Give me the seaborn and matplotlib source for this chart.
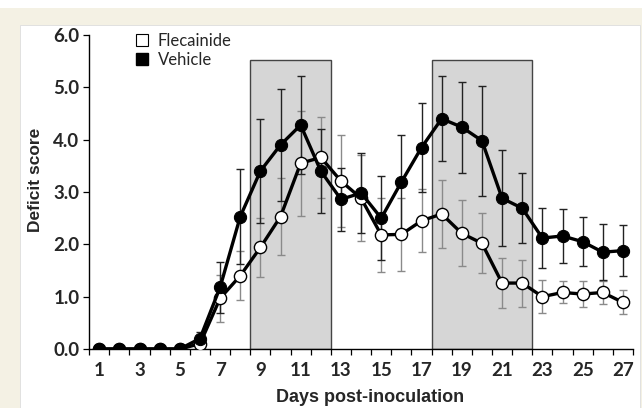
import numpy as np
import pandas as pd
import matplotlib
matplotlib.use("Agg")
import matplotlib.pyplot as plt
from matplotlib.patches import Rectangle
from matplotlib.lines import Line2D
import seaborn as sns

# ---- data ----
days = list(range(1, 28))
vehicle = [0, 0, 0, 0, 0, 0.20, 1.18, 2.53, 3.40, 3.90, 4.28, 3.40, 2.86, 2.98,
           2.50, 3.19, 3.85, 4.40, 4.24, 3.98, 2.88, 2.69, 2.12, 2.16, 2.05, 1.85, 1.88]
vehicle_err = [0, 0, 0, 0, 0, 0.12, 0.49, 0.90, 1.00, 1.07, 0.93, 0.80, 0.60, 0.77,
               0.80, 0.90, 0.85, 0.81, 0.87, 1.05, 0.92, 0.67, 0.57, 0.51, 0.47, 0.54, 0.49]
flecainide = [0, 0, 0, 0, 0, 0.10, 0.97, 1.40, 1.94, 2.53, 3.55, 3.66, 3.21, 2.88,
              2.18, 2.19, 2.45, 2.58, 2.21, 2.02, 1.26, 1.26, 1.00, 1.08, 1.05, 1.08, 0.89]
flecainide_err = [0, 0, 0, 0, 0, 0.08, 0.45, 0.47, 0.57, 0.73, 1.00, 0.78, 0.88, 0.82,
                  0.70, 0.70, 0.60, 0.65, 0.63, 0.57, 0.47, 0.45, 0.32, 0.21, 0.24, 0.22, 0.23]
shade_windows = [(8.5, 12.5), (17.5, 22.5)]
shade_top = 5.53
x_tick_labels = [str(d) for d in range(1, 28, 2)]
y_ticks = [0, 1, 2, 3, 4, 5, 6]
series_names = ["Flecainide", "Vehicle"]

df = pd.DataFrame({
    "day": days * 2,
    "score": flecainide + vehicle,
    "group": ["Flecainide"] * len(days) + ["Vehicle"] * len(days),
})

sns.set_style("ticks")
plt.rcParams["font.family"] = ["Lato", "DejaVu Sans"]

fig = plt.figure(figsize=(6.42, 4.08), dpi=100)
fig.patch.set_facecolor("white")
W, H = 642, 408
fig.patches.append(Rectangle((0, 0), 1, (H - 8) / H, transform=fig.transFigure,
                             facecolor="#f4f1e4", edgecolor="none", zorder=-10))
fig.patches.append(Rectangle((20 / W, 0), (640 - 20) / W, (H - 25) / H, transform=fig.transFigure,
                             facecolor="white", edgecolor="#dddddd", linewidth=0.6, zorder=-9))

ax = fig.add_axes([89.2 / W, (H - 349) / H, (633 - 89.2) / W, (349 - 35) / H])
ax.set_facecolor("none")

for (x0, x1) in shade_windows:
    ax.add_patch(Rectangle((x0, 0), x1 - x0, shade_top, facecolor="#d6d6d6",
                           edgecolor="#444444", linewidth=1.0, zorder=0))

ax.errorbar(days, flecainide, yerr=flecainide_err, fmt="none", ecolor="#8a8a8a",
            elinewidth=1.0, capsize=2.6, capthick=1.0, zorder=1)
ax.errorbar(days, vehicle, yerr=vehicle_err, fmt="none", ecolor="#222222",
            elinewidth=1.0, capsize=2.6, capthick=1.0, zorder=1.5)

sub_f = df[df["group"] == "Flecainide"]
sub_v = df[df["group"] == "Vehicle"]
sns.lineplot(data=sub_f, x="day", y="score", ax=ax, color="black", linewidth=2.4,
             marker="o", markersize=8.8, markerfacecolor="white", markeredgecolor="black",
             markeredgewidth=1.0, zorder=3, legend=False)
sns.lineplot(data=sub_v, x="day", y="score", ax=ax, color="black", linewidth=2.4,
             marker="o", markersize=8.8, markerfacecolor="black", markeredgecolor="black",
             zorder=4, legend=False)

ax.set_xlim(0.5, 27.5)
ax.set_ylim(0, 6)
ax.set_xticks(range(1, 28, 2))
ax.set_xticklabels(x_tick_labels)
ax.set_xticks(np.arange(0.5, 28, 1), minor=True)
ax.tick_params(axis="x", which="major", length=0, pad=9, labelsize=13.5)
ax.tick_params(axis="x", which="minor", length=4, width=0.9, direction="out", color="black")
ax.set_yticks(y_ticks)
ax.set_yticklabels([f"{v:.1f}" for v in y_ticks])
ax.tick_params(axis="y", length=4, width=0.9, direction="out", labelsize=13.5, pad=3, color="black")
for lbl in ax.get_xticklabels() + ax.get_yticklabels():
    lbl.set_fontweight("bold")
    lbl.set_family(["Lato", "DejaVu Sans"])

sns.despine(ax=ax)
for s in ["left", "bottom"]:
    ax.spines[s].set_color("black")
    ax.spines[s].set_linewidth(1.0)

ax.set_xlabel("Days post-inoculation", fontsize=13, fontweight="bold",
              family=["Liberation Sans", "DejaVu Sans"])
ax.set_ylabel("Deficit score", fontsize=12.5, fontweight="bold",
              family=["Liberation Sans", "DejaVu Sans"])
ax.xaxis.set_label_coords((370 - 89.2) / (633 - 89.2), -(389 - 349) / (349 - 35))
ax.yaxis.set_label_coords(-(89.2 - 43) / (633 - 89.2), (349 - 180) / (349 - 35))

handles = [
    Line2D([], [], linestyle="none", marker="s", markersize=9, markerfacecolor="white",
           markeredgecolor="black", markeredgewidth=0.8),
    Line2D([], [], linestyle="none", marker="s", markersize=9, markerfacecolor="black",
           markeredgecolor="black"),
]
fig.legend(handles, series_names, loc="upper left",
           bbox_to_anchor=(127 / W, 1 - 25 / H), frameon=False,
           handlelength=0.8, handletextpad=0.55, labelspacing=0.15, borderpad=0,
           prop={"family": ["Lato", "DejaVu Sans"], "size": 12})

fig.savefig("out.png", dpi=100)
